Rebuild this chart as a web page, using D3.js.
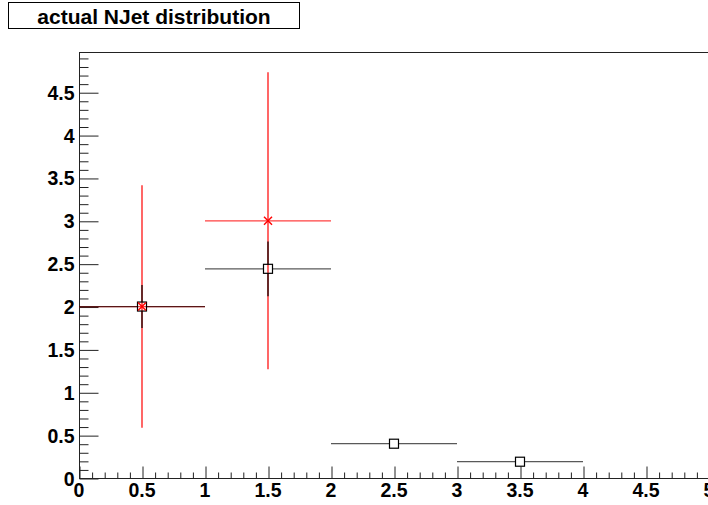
<!DOCTYPE html>
<html><head><meta charset="utf-8">
<script src="https://cdn.jsdelivr.net/npm/d3@7"></script>
<style>
html,body{margin:0;padding:0;background:#fff;overflow:hidden;}
svg{display:block;}
text{font-family:"Liberation Sans",Arial,Helvetica,sans-serif;font-weight:bold;fill:#000;}
</style></head>
<body>
<script>
// ---- data ----
const title = "actual NJet distribution";
const blackBins = [0.5, 1.5, 2.5, 3.5];
const blackValues = [2.0, 2.44, 0.40, 0.19];
const blackErrors = [0.25, 0.32, 0.0, 0.0];
const redBins = [0.5, 1.5];
const redValues = [2.0, 3.0];
const redErrors = [1.414, 1.732];
const binHalfWidth = 0.5;
const xTickValues = [0, 0.5, 1, 1.5, 2, 2.5, 3, 3.5, 4, 4.5, 5];
const xTickLabels = ["0", "0.5", "1", "1.5", "2", "2.5", "3", "3.5", "4", "4.5", "5"];
const yTickValues = [0, 0.5, 1, 1.5, 2, 2.5, 3, 3.5, 4, 4.5];
const yTickLabels = ["0", "0.5", "1", "1.5", "2", "2.5", "3", "3.5", "4", "4.5"];
const xDomain = [0, 5];
const yDomain = [0, 4.969];

const W = 708, H = 505;
const frame = {left: 79, right: 709, top: 52, bottom: 478};

const svg = d3.select("body").append("svg").attr("width", W).attr("height", H);

const x = d3.scaleLinear().domain(xDomain).range([frame.left, frame.right]);
const y = d3.scaleLinear().domain(yDomain).range([frame.bottom, frame.top]);

// title box
const tg = svg.append("g");
tg.append("rect").attr("x", 8.5).attr("y", 2.5).attr("width", 291).attr("height", 26)
  .attr("fill", "#fff").attr("stroke", "#000").attr("stroke-width", 1);
tg.append("text").attr("x", 154).attr("y", 23.5).attr("text-anchor", "middle")
  .style("font-size", "21px").text(title);

// frame lines (right edge is outside the window)
const fr = svg.append("g").attr("stroke", "#222").attr("stroke-width", 1).attr("fill", "none");
fr.append("rect").attr("x", frame.left + 0.5).attr("y", frame.top + 0.5)
  .attr("width", frame.right - frame.left).attr("height", frame.bottom - frame.top);

// y axis: ticks inside the frame
const yAxis = d3.axisRight(y).tickValues(yTickValues).tickSize(19).tickFormat(() => "");
const yMinor = d3.axisRight(y).tickValues(d3.range(0, 50).map(i => i / 10).filter(v => v <= yDomain[1] && Math.abs(v * 2 - Math.round(v * 2)) > 1e-6)).tickSize(9).tickFormat(() => "");
[yAxis, yMinor].forEach(a => {
  const g = svg.append("g").attr("transform", `translate(${frame.left + 0.5},0.5)`).call(a);
  g.select(".domain").remove();
  g.selectAll("line").attr("stroke", "#222");
});
svg.append("g").selectAll("text").data(yTickValues).join("text")
  .attr("x", 74.5).attr("y", d => y(d) + 7.5).attr("text-anchor", "end")
  .style("font-size", "19.5px").text((d, i) => yTickLabels[i]);

// x axis: ticks pointing up
const xAxis = d3.axisTop(x).tickValues(xTickValues).tickSize(12).tickFormat(() => "");
const xMinor = d3.axisTop(x).tickValues(d3.range(0, 51).map(i => i / 10).filter(v => Math.abs(v * 2 - Math.round(v * 2)) > 1e-6)).tickSize(6).tickFormat(() => "");
[xAxis, xMinor].forEach(a => {
  const g = svg.append("g").attr("transform", `translate(0.5,${frame.bottom + 0.5})`).call(a);
  g.select(".domain").remove();
  g.selectAll("line").attr("stroke", "#222");
});
svg.append("g").selectAll("text").data(xTickValues).join("text")
  .attr("x", d => x(d)).attr("y", frame.bottom + 18.5).attr("text-anchor", "middle")
  .style("font-size", "19.5px").text((d, i) => xTickLabels[i]);

// red series: error bars
const redData = redBins.map((b, i) => ({x: b, y: redValues[i], e: redErrors[i]}));
const blackData = blackBins.map((b, i) => ({x: b, y: blackValues[i], e: blackErrors[i]}));
const gap = 4.5;

const rg = svg.append("g").attr("stroke", "#ff0000").attr("stroke-width", 1.2);
rg.selectAll(".h").data(redData).join("line").attr("class", "h")
  .attr("x1", d => x(d.x - binHalfWidth)).attr("x2", d => x(d.x + binHalfWidth))
  .attr("y1", d => y(d.y)).attr("y2", d => y(d.y)).attr("stroke-opacity", 0.75);
rg.selectAll(".v").data(redData).join("line").attr("class", "v")
  .attr("x1", d => x(d.x)).attr("x2", d => x(d.x))
  .attr("y1", d => y(d.y + d.e)).attr("y2", d => y(d.y - d.e));

// black series: error bars stopping at the marker
const bg = svg.append("g").attr("stroke", "#000").attr("stroke-width", 1.2);
blackData.forEach(d => {
  const cx = x(d.x), cy = y(d.y);
  bg.append("line").attr("x1", x(d.x - binHalfWidth)).attr("x2", cx - gap)
    .attr("y1", cy).attr("y2", cy).attr("stroke-opacity", 0.65);
  bg.append("line").attr("x1", cx + gap).attr("x2", x(d.x + binHalfWidth))
    .attr("y1", cy).attr("y2", cy).attr("stroke-opacity", 0.65);
  if (y(d.y - d.e) - y(d.y + d.e) > 2 * gap) {
    bg.append("line").attr("x1", cx).attr("x2", cx).attr("y1", y(d.y + d.e)).attr("y2", cy - gap);
    bg.append("line").attr("x1", cx).attr("x2", cx).attr("y1", cy + gap).attr("y2", y(d.y - d.e));
  }
});
// black open squares
svg.append("g").selectAll("rect").data(blackData).join("rect")
  .attr("x", d => x(d.x) - 4.5).attr("y", d => y(d.y) - 4.5)
  .attr("width", 9).attr("height", 9)
  .attr("fill", "none").attr("stroke", "#000").attr("stroke-width", 1.2);

// red X markers
const mk = svg.append("g").attr("stroke", "#ff0000").attr("stroke-width", 1.4);
redData.forEach(d => {
  const cx = x(d.x), cy = y(d.y), s = 4;
  mk.append("line").attr("x1", cx - s).attr("y1", cy - s).attr("x2", cx + s).attr("y2", cy + s);
  mk.append("line").attr("x1", cx - s).attr("y1", cy + s).attr("x2", cx + s).attr("y2", cy - s);
});
</script>
</body></html>
